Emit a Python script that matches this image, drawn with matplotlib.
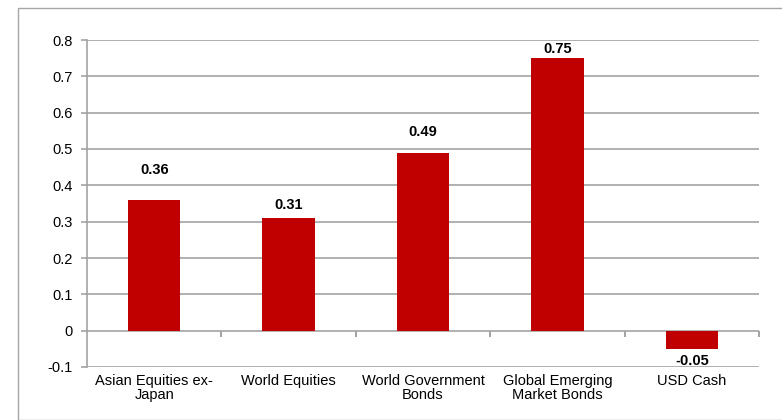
import matplotlib
matplotlib.use("Agg")
import matplotlib.pyplot as plt
from matplotlib.patches import Rectangle

categories = ["Asian Equities ex-\nJapan", "World Equities", "World Government\nBonds",
              "Global Emerging\nMarket Bonds", "USD Cash"]
values = [0.36, 0.31, 0.49, 0.75, -0.05]
labels = ["0.36", "0.31", "0.49", "0.75", "-0.05"]
yticks = [-0.1, 0, 0.1, 0.2, 0.3, 0.4, 0.5, 0.6, 0.7, 0.8]
ytick_labels = ["-0.1", "0", "0.1", "0.2", "0.3", "0.4", "0.5", "0.6", "0.7", "0.8"]
label_offsets = [16.5, 4.3, 10, 1.5, 3.5]  # points from bar end

plt.rcParams["font.family"] = ["Liberation Sans", "DejaVu Sans"]
W, H = 782, 420
fig = plt.figure(figsize=(W / 100, H / 100), dpi=100)

# chart border
fig.patches.append(Rectangle((18 / W, 0), 2, 1 - 8 / H, transform=fig.transFigure,
                             fill=False, edgecolor="#a6a6a6", linewidth=1.0))

left, right, top, bottom = 87, 759, 40, 367
ax = fig.add_axes([left / W, 1 - bottom / H, (right - left) / W, (bottom - top) / H])

grid_c = "#a3a3a3"
x = range(len(values))
ax.bar(x, values, width=0.39, color="#c00000", zorder=3)

ax.set_xlim(-0.5, len(values) - 0.5)
ax.set_ylim(-0.1, 0.8)
ax.set_yticks(yticks)
ax.set_yticklabels(ytick_labels, fontsize=10.5)
for y in yticks:
    ax.axhline(y, color=grid_c, linewidth=1.2, zorder=1)

for s in ["top", "right", "bottom"]:
    ax.spines[s].set_visible(False)
ax.spines["left"].set_color(grid_c)
ax.spines["left"].set_linewidth(1.2)
ax.tick_params(axis="y", length=4, width=1.2, color=grid_c, pad=6)
ax.tick_params(axis="x", length=0, pad=5)
ax.set_xticks(list(x))
ax.set_xticklabels(categories, fontsize=10.5, linespacing=1.05)

# category boundary ticks on the zero line
for b in [0.5 + i for i in range(len(values))]:
    ax.plot([b, b], [0, 0], marker=3, markersize=4, markeredgewidth=1.2,
            color=grid_c, clip_on=False, zorder=2)

for i, (v, t, off) in enumerate(zip(values, labels, label_offsets)):
    va = "bottom" if v >= 0 else "top"
    dy = off if v >= 0 else -off
    ax.annotate(t, (i, v), xytext=(0, dy), textcoords="offset points",
                ha="center", va=va, fontsize=10.5, fontweight="bold", zorder=4)

fig.savefig("out.png", dpi=100)
